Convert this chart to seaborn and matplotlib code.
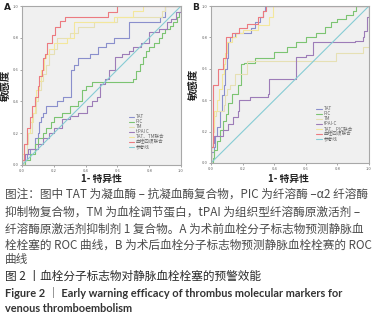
import numpy as np
import pandas as pd
import matplotlib
matplotlib.use("Agg")
import matplotlib.pyplot as plt
import seaborn as sns

# ---- data (ROC step corners: fpr, tpr) ----
series_a = ["TAT", "PIC", "TM", "tPAI C", "TAT、TM联合", "血栓四项联合"]
series_b = ["TAT", "PIC", "TM", "tPAI-C", "TAT、PIC联合", "血栓四项联合"]

a_tat_x = [0, 0.01, 0.03, 0.05, 0.08, 0.10, 0.11, 0.12, 0.13, 0.15, 0.22, 0.26, 0.31, 0.33, 0.35, 0.43, 0.48, 0.53, 0.58, 0.67, 0.87, 0.90, 1.0]
a_tat_y = [0, 0.03, 0.07, 0.10, 0.17, 0.20, 0.27, 0.30, 0.33, 0.37, 0.40, 0.43, 0.60, 0.63, 0.67, 0.70, 0.74, 0.77, 0.80, 0.90, 0.93, 1.0, 1.0]
a_pic_x = [0, 0.02, 0.05, 0.08, 0.10, 0.13, 0.15, 0.18, 0.20, 0.25, 0.30, 0.35, 0.38, 0.40, 0.44, 0.70, 0.72, 0.74, 0.76, 0.78, 0.80, 0.83, 0.86, 0.88, 0.90, 0.93, 0.95, 0.975, 0.99, 1.0]
a_pic_y = [0, 0.03, 0.07, 0.13, 0.17, 0.20, 0.23, 0.27, 0.30, 0.33, 0.37, 0.40, 0.47, 0.50, 0.52, 0.54, 0.59, 0.635, 0.68, 0.72, 0.74, 0.77, 0.80, 0.83, 0.855, 0.875, 0.90, 0.93, 0.96, 1.0]
a_tm_x = [0, 0.01, 0.03, 0.04, 0.06, 0.07, 0.09, 0.10, 0.12, 0.13, 0.15, 0.17, 0.20, 0.22, 0.30, 0.35, 0.45, 0.60, 0.88, 0.90, 1.0]
a_tm_y = [0, 0.07, 0.13, 0.20, 0.27, 0.33, 0.40, 0.47, 0.53, 0.57, 0.63, 0.70, 0.73, 0.80, 0.83, 0.87, 0.90, 0.93, 0.97, 1.0, 1.0]
a_tpa_x = [0, 0, 0.02, 0.04, 0.10, 0.13, 0.17, 0.20, 0.25, 0.30, 0.35, 0.41, 0.44, 0.47, 0.49, 0.52, 0.55, 0.585, 0.63, 0.67, 0.70, 0.75, 0.80, 0.86, 0.91, 0.94, 0.97, 1.0]
a_tpa_y = [0, 0.03, 0.07, 0.10, 0.13, 0.17, 0.20, 0.23, 0.29, 0.31, 0.33, 0.37, 0.40, 0.43, 0.51, 0.54, 0.60, 0.68, 0.70, 0.72, 0.74, 0.77, 0.835, 0.855, 0.90, 0.92, 0.96, 1.0]
a_com_x = [0, 0, 0.01, 0.03, 0.05, 0.06, 0.08, 0.09, 0.11, 0.12, 0.14, 0.15, 0.17, 0.20, 0.28, 0.33, 0.58, 0.70, 0.76, 1.0]
a_com_y = [0, 0.07, 0.13, 0.20, 0.27, 0.33, 0.40, 0.47, 0.53, 0.60, 0.67, 0.70, 0.73, 0.765, 0.80, 0.90, 0.93, 0.97, 1.0, 1.0]
a_all_x = [0, 0, 0.01, 0.03, 0.05, 0.06, 0.08, 0.10, 0.11, 0.124, 0.135, 0.145, 0.155, 0.19, 0.21, 0.24, 0.27, 0.36, 0.54, 0.60, 1.0]
a_all_y = [0, 0.03, 0.13, 0.23, 0.30, 0.37, 0.43, 0.50, 0.56, 0.60, 0.67, 0.70, 0.77, 0.82, 0.87, 0.906, 0.93, 0.93, 0.96, 1.0, 1.0]

b_tat_x = [0, 0, 0.02, 0.025, 0.04, 0.055, 0.06, 0.07, 0.08, 0.09, 0.10, 0.11, 0.12, 0.15, 0.255, 0.276, 0.31, 0.33, 0.34, 1.0]
b_tat_y = [0, 0.07, 0.10, 0.17, 0.23, 0.27, 0.33, 0.43, 0.50, 0.60, 0.67, 0.77, 0.80, 0.83, 0.86, 0.90, 0.93, 0.97, 1.0, 1.0]
b_pic_x = [0, 0.01, 0.02, 0.035, 0.055, 0.076, 0.097, 0.11, 0.13, 0.17, 0.19, 0.21, 0.28, 0.40, 0.48, 0.54, 0.60, 0.667, 0.72, 0.76, 0.80, 0.856, 0.90, 0.92, 1.0]
b_pic_y = [0, 0.03, 0.08, 0.14, 0.21, 0.27, 0.31, 0.38, 0.44, 0.50, 0.63, 0.64, 0.67, 0.705, 0.737, 0.77, 0.80, 0.83, 0.864, 0.896, 0.917, 0.94, 0.97, 1.0, 1.0]
b_tm_x = [0, 0, 0.01, 0.02, 0.03, 0.08, 0.09, 0.10, 0.12, 0.15, 0.23, 0.79, 0.96, 1.0]
b_tm_y = [0, 0.10, 0.20, 0.30, 0.33, 0.37, 0.43, 0.47, 0.50, 0.57, 0.65, 0.70, 0.74, 1.0]
b_tpa_x = [0, 0, 0.013, 0.02, 0.076, 0.108, 0.14, 0.17, 0.18, 0.245, 0.36, 0.37, 0.54, 0.60, 0.645, 0.91, 0.96, 0.97, 0.99, 1.0]
b_tpa_y = [0, 0.10, 0.13, 0.17, 0.21, 0.25, 0.29, 0.33, 0.40, 0.42, 0.44, 0.535, 0.673, 0.69, 0.77, 0.78, 0.80, 0.84, 0.93, 1.0]
b_com_x = [0, 0, 0.01, 0.02, 0.04, 0.05, 0.07, 0.08, 0.09, 0.10, 0.13, 0.16, 0.20, 0.30, 0.37, 0.39, 1.0]
b_com_y = [0, 0.10, 0.23, 0.33, 0.40, 0.47, 0.57, 0.63, 0.70, 0.77, 0.80, 0.83, 0.85, 0.88, 0.93, 1.0, 1.0]
b_all_x = [0, 0, 0.013, 0.044, 0.076, 0.097, 0.13, 0.18, 0.23, 0.30, 0.33, 0.35, 1.0]
b_all_y = [0, 0.10, 0.50, 0.60, 0.67, 0.80, 0.83, 0.86, 0.885, 0.93, 0.97, 1.0, 1.0]

ref_x = [0, 1]
ref_y = [0, 1]

colors = ["#8a8fcc", "#7cc472", "#e6e0b4", "#9d7cb8", "#f3e79c", "#ec7a80"]
ref_color = "#86ccd4"

caption_lines = [
    "图注：图中 TAT 为凝血酶 – 抗凝血酶复合物，PIC 为纤溶酶 –α2 纤溶酶",
    "抑制物复合物，TM 为血栓调节蛋白，tPAI 为组织型纤溶酶原激活剂 –",
    "纤溶酶原激活剂抑制剂 1 复合物。A 为术前血栓分子标志物预测静脉血",
    "栓栓塞的 ROC 曲线，B 为术后血栓分子标志物预测静脉血栓栓赛的 ROC",
    "曲线",
]
title_cn = "图 2 丨血栓分子标志物对静脉血栓栓塞的预警效能"
title_en = ["Figure 2 ｜ Early warning efficacy of thrombus molecular markers for",
            "venous thromboembolism"]

sns.set_theme(style="white")
plt.rcParams['font.family'] = ['Noto Sans CJK SC', 'DejaVu Sans']

W, H = 380, 319
fig = plt.figure(figsize=(3.8, 3.19), dpi=100)


def make_df(xs, ys, names):
    parts = []
    for x, y, n in zip(xs, ys, names):
        parts.append(pd.DataFrame({"fpr": x, "tpr": y, "curve": n}))
    return pd.concat(parts, ignore_index=True)


def draw_panel(rect, df, names, letter, letter_xy, legend_anchor, ylab_x, xlab_xy):
    ax = fig.add_axes(rect)
    ax.set_facecolor("#f0f0f0")
    for n, c in zip(names, colors):
        sub = df[df["curve"] == n]
        sns.lineplot(data=sub, x="fpr", y="tpr", sort=False, estimator=None,
                     drawstyle="steps-post", color=c, linewidth=0.8, label=n, ax=ax)
    sns.lineplot(x=ref_x, y=ref_y, color=ref_color, linewidth=0.8, label="参考线", ax=ax)
    ax.set_xlim(0, 1)
    ax.set_ylim(0, 1)
    ticks = [0.0, 0.2, 0.4, 0.6, 0.8, 1.0]
    ax.set_xticks(ticks)
    ax.set_yticks(ticks)
    ax.set_xticklabels([f"{t:.1f}" for t in ticks])
    ax.set_yticklabels([f"{t:.1f}" for t in ticks])
    ax.tick_params(labelsize=3, colors="#666666", length=1.5, width=0.4, pad=1.2)
    ax.tick_params(axis="both", which="both", bottom=True, left=True)
    for s in ax.spines.values():
        s.set_color("#a8a8a8")
        s.set_linewidth(0.8)
    ax.set_xlabel("1- 特异性", fontsize=7, fontweight="bold", color="#222222")
    ax.set_ylabel("敏感度", fontsize=7.5, fontweight="bold", color="#222222")
    ax.yaxis.set_label_coords(ylab_x, 0.5)
    ax.xaxis.set_label_coords(*xlab_xy)
    leg = ax.legend(loc="upper left", bbox_to_anchor=legend_anchor, frameon=False,
                    fontsize=3.3, handlelength=1.2, handletextpad=0.4,
                    labelspacing=0.0, borderpad=0, borderaxespad=0)
    for t in leg.get_texts():
        t.set_color("#666666")
    fig.text(letter_xy[0] / W, 1 - letter_xy[1] / H, letter, fontsize=6.5,
             fontweight="bold", color="#222222", ha="left", va="center",
             family=["DejaVu Sans"])
    return ax


df_a = make_df([a_tat_x, a_pic_x, a_tm_x, a_tpa_x, a_com_x, a_all_x],
               [a_tat_y, a_pic_y, a_tm_y, a_tpa_y, a_com_y, a_all_y], series_a)
df_b = make_df([b_tat_x, b_pic_x, b_tm_x, b_tpa_x, b_com_x, b_all_x],
               [b_tat_y, b_pic_y, b_tm_y, b_tpa_y, b_com_y, b_all_y], series_b)

draw_panel([22 / W, 1 - 165 / H, 159 / W, 159 / H], df_a, series_a, "A", (4, 8),
           (0.67, 0.32), -0.068, (0.5, -0.058))
draw_panel([211 / W, 1 - 163 / H, 158 / W, 157 / H], df_b, series_b, "B", (192, 8),
           (0.665, 0.36), -0.075, (0.49, -0.07))

# ---- caption ----
cap_y = [194, 212, 229, 245, 260]
for s, y in zip(caption_lines, cap_y):
    fig.text(5 / W, 1 - y / H, s, fontsize=8.4, color="#4a4a4a", ha="left", va="center")
fig.text(5 / W, 1 - 276 / H, title_cn, fontsize=8.4, color="#2a2a2a", ha="left", va="center")
for s, y in zip(title_en, [293, 309]):
    fig.text(5 / W, 1 - y / H, s, fontsize=7.9, fontweight="bold", color="#333333",
             ha="left", va="center", family=["Lato", "Noto Sans CJK SC", "DejaVu Sans"])

fig.savefig("out.png", dpi=100)
